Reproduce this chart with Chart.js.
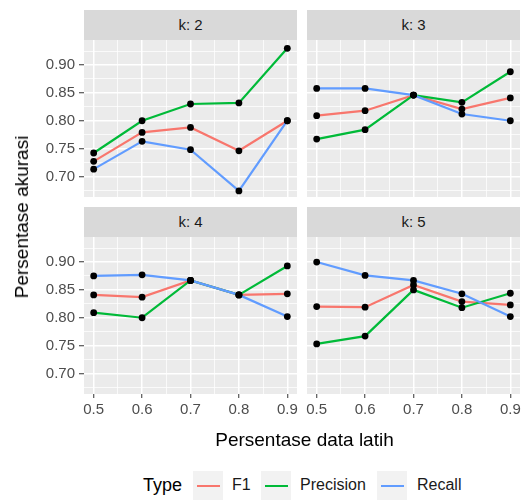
<!DOCTYPE html>
<html>
<head>
<meta charset="utf-8">
<script src="https://cdn.jsdelivr.net/npm/chart.js@4/dist/chart.umd.min.js"></script>
<style>
    body { margin: 0; background: #fff; font-family: 'Liberation Sans', Arial, sans-serif; }
    #wrap { position: relative; width: 525px; height: 500px; overflow: hidden; }
    .strip { position: absolute; background: #D9D9D9; color: #1A1A1A; font-size: 15px; text-align: center; }
    .txt { position: absolute; white-space: nowrap; color: #000; }
    .key { position: absolute; width: 30px; height: 30px; background: #F2F2F2; }
    .key span { position: absolute; left: 4px; right: 3px; top: 14px; height: 2px; }
    canvas { position: absolute; }
</style>
</head>
<body>
<div id="wrap"></div>
<script>
// data
const xValues = [0.5, 0.6, 0.7, 0.8, 0.9]
const kLabels = ['k: 2', 'k: 3', 'k: 4', 'k: 5']
// one row per k
const f1Values = [
    [0.727, 0.779, 0.788, 0.746, 0.800],
    [0.809, 0.818, 0.846, 0.821, 0.841],
    [0.841, 0.837, 0.867, 0.841, 0.843],
    [0.820, 0.819, 0.859, 0.829, 0.823],
]
const precisionValues = [
    [0.742, 0.800, 0.830, 0.832, 0.930],
    [0.767, 0.784, 0.846, 0.833, 0.888],
    [0.809, 0.800, 0.867, 0.841, 0.893],
    [0.753, 0.767, 0.850, 0.818, 0.844],
]
const recallValues = [
    [0.713, 0.763, 0.748, 0.674, 0.800],
    [0.858, 0.858, 0.846, 0.812, 0.800],
    [0.875, 0.877, 0.867, 0.841, 0.802],
    [0.900, 0.876, 0.867, 0.843, 0.802],
]
const xMajor = [0.5, 0.6, 0.7, 0.8, 0.9]
const xMinor = [0.55, 0.65, 0.75, 0.85]
const yMajor = [0.70, 0.75, 0.80, 0.85, 0.90]
const yMinor = [0.675, 0.725, 0.775, 0.825, 0.875, 0.925]

const series = [
    { name: 'F1', values: f1Values, color: '#F8766D' },
    { name: 'Precision', values: precisionValues, color: '#00BA38' },
    { name: 'Recall', values: recallValues, color: '#619CFF' },
]

const wrap = document.getElementById('wrap')
const FONT = "'Liberation Sans', Arial, sans-serif"
const pad = 14
const panelW = 213
const panelH = 157
const colX = [84, 307]
const rowY = [40, 237]

const isMajor = (v, list) => list.some(m => Math.abs(m - v) < 1e-6)
const byValue = (a, b) => a - b

const panelBg = {
    id: 'panelBg',
    beforeDraw(chart) {
        const { ctx, chartArea: a } = chart
        ctx.save()
        ctx.fillStyle = '#EBEBEB'
        ctx.fillRect(a.left, a.top, a.width, a.height)
        ctx.restore()
    },
}

function addDiv(cls, css, text) {
    const d = document.createElement('div')
    d.className = cls
    Object.assign(d.style, css)
    if (text !== undefined) d.textContent = text
    wrap.appendChild(d)
    return d
}

function makePanel(i) {
    const col = i % 2
    const row = Math.floor(i / 2)
    const showY = col === 0
    const showX = row === 1
    const axL = showY ? 84 : 0
    const axB = showX ? 30 : 0

    addDiv('strip', {
        left: colX[col] + 'px', top: rowY[row] - 30 + 'px',
        width: panelW + 'px', height: '30px', lineHeight: '30px',
    }, kLabels[i])

    const canvas = document.createElement('canvas')
    canvas.width = pad * 2 + axL + panelW
    canvas.height = pad * 2 + panelH + axB
    canvas.style.left = colX[col] - axL - pad + 'px'
    canvas.style.top = rowY[row] - pad + 'px'
    wrap.appendChild(canvas)

    // points go first so they are drawn over every line
    const points = []
    series.forEach(s => {
        s.values[i].forEach((v, j) => points.push({ x: xValues[j], y: v }))
    })
    const datasets = [{
        data: points,
        showLine: false,
        pointRadius: 3.4,
        pointBackgroundColor: '#000',
        pointBorderColor: '#000',
        borderWidth: 0,
    }]
    series.slice().reverse().forEach(s => {
        datasets.push({
            label: s.name,
            data: s.values[i].map((v, j) => ({ x: xValues[j], y: v })),
            borderColor: s.color,
            borderWidth: 2.2,
            pointRadius: 0,
            tension: 0,
        })
    })

    const tickFont = { family: FONT, size: 15 }
    new Chart(canvas, {
        type: 'line',
        data: { datasets },
        plugins: [panelBg],
        options: {
            responsive: false,
            animation: false,
            devicePixelRatio: 1,
            layout: { padding: pad },
            plugins: { legend: { display: false }, tooltip: { enabled: false } },
            scales: {
                x: {
                    type: 'linear',
                    min: 0.48,
                    max: 0.92,
                    afterBuildTicks: s => {
                        s.ticks = xMajor.concat(xMinor).sort(byValue).map(v => ({ value: v }))
                    },
                    afterFit: s => {
                        s.height = axB
                        s.paddingLeft = 0
                        s.paddingRight = 0
                    },
                    ticks: {
                        display: showX,
                        autoSkip: false,
                        maxRotation: 0,
                        padding: 3,
                        color: '#4D4D4D',
                        font: tickFont,
                        callback: v => (isMajor(v, xMajor) ? v.toFixed(1) : ''),
                    },
                    grid: {
                        color: '#FFFFFF',
                        lineWidth: c => (isMajor(c.tick.value, xMajor) ? 1.5 : 0.75),
                        drawTicks: showX,
                        tickLength: 4,
                        tickWidth: 1,
                        tickColor: c => (isMajor(c.tick.value, xMajor) ? '#333333' : 'rgba(0,0,0,0)'),
                    },
                    border: { display: false },
                },
                y: {
                    type: 'linear',
                    min: 0.663,
                    max: 0.945,
                    afterBuildTicks: s => {
                        s.ticks = yMajor.concat(yMinor).sort(byValue).map(v => ({ value: v }))
                    },
                    afterFit: s => {
                        s.width = axL
                        s.paddingTop = 0
                        s.paddingBottom = 0
                    },
                    ticks: {
                        display: showY,
                        autoSkip: false,
                        padding: 4,
                        color: '#4D4D4D',
                        font: tickFont,
                        callback: v => (isMajor(v, yMajor) ? v.toFixed(2) : ''),
                    },
                    grid: {
                        color: '#FFFFFF',
                        lineWidth: c => (isMajor(c.tick.value, yMajor) ? 1.5 : 0.75),
                        drawTicks: showY,
                        tickLength: 5,
                        tickWidth: 1,
                        tickColor: c => (isMajor(c.tick.value, yMajor) ? '#333333' : 'rgba(0,0,0,0)'),
                    },
                    border: { display: false },
                },
            },
        },
    })
}

kLabels.forEach((_, i) => makePanel(i))

// axis titles
addDiv('txt', { left: '0px', width: '525px', paddingLeft: '84px', boxSizing: 'border-box', top: '429px', fontSize: '19px', textAlign: 'center' }, 'Persentase data latih')
const yt = addDiv('txt', { left: '22px', top: '217px', fontSize: '19px' }, 'Persentase akurasi')
yt.style.transform = 'translate(-50%, -50%) rotate(-90deg)'

// legend
addDiv('txt', { left: '143px', top: '475px', fontSize: '18px' }, 'Type')
const keyX = [193, 261, 377]
const labelX = [232, 300, 417]
series.forEach((s, j) => {
    const k = addDiv('key', { left: keyX[j] + 'px', top: '471px' })
    const line = document.createElement('span')
    line.style.background = s.color
    k.appendChild(line)
    addDiv('txt', { left: labelX[j] + 'px', top: '476px', fontSize: '16px', color: '#1A1A1A' }, s.name)
})
</script>
</body>
</html>
